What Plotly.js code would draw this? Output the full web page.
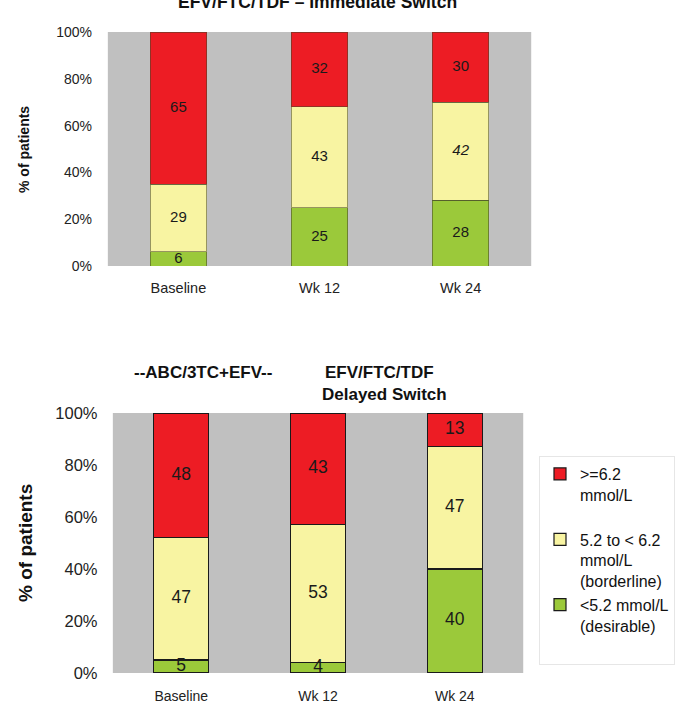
<!DOCTYPE html>
<html>
<head>
<meta charset="utf-8">
<script src="https://cdn.plot.ly/plotly-3.0.1.min.js"></script>
<style>html,body{margin:0;padding:0;background:#fff;}#chart{width:675px;height:715px;}</style>
</head>
<body>
<div id="chart"></div>
<script>
// ---- data ----
const categories = ['Baseline', 'Wk 12', 'Wk 24'];
// Immediate switch (top chart)
const topGreen  = [6, 25, 28];
const topYellow = [29, 43, 42];
const topRed    = [65, 32, 30];
const topYellowItalic = [false, false, true];
// Delayed switch (bottom chart)
const botGreen  = [5, 4, 40];
const botYellow = [47, 53, 47];
const botRed    = [48, 43, 13];
const seriesNames = ['&gt;=6.2<br>mmol/L<br> ', '5.2 to &lt; 6.2<br>mmol/L<br>(borderline)', '&lt;5.2 mmol/L<br>(desirable)<br> '];
const yTicks = [0, 20, 40, 60, 80, 100];
const yTickText = yTicks.map(v => v + '%');

// ---- style ----
const W = 675, H = 715;
const FONT = 'Liberation Sans, Arial, sans-serif';
const C_RED = '#ED1C24', C_YEL = '#F8F4A2', C_GRN = '#9BC93A', C_BG = '#C0C0C0';
const px = v => v / W, py = v => 1 - v / H;

function stackTraces(green, yellow, red, xa, ya, lineColor, lineWidth, showLegend, textSize, italic) {
  const cols = [C_GRN, C_YEL, C_RED];
  const series = [green, yellow, red];
  const names = [seriesNames[2], seriesNames[1], seriesNames[0]];
  const ranks = [3, 2, 1];
  const traces = [];
  series.forEach((vals, i) => {
    traces.push({
      type: 'bar', x: categories, y: vals, xaxis: xa, yaxis: ya,
      name: names[i], legendrank: ranks[i], showlegend: showLegend,
      marker: {color: cols[i], line: {color: lineColor, width: lineWidth}},
      hoverinfo: 'skip'
    });
  });
  // value labels at the middle of each segment
  series.forEach((vals, i) => {
    const mids = vals.map((v, k) => {
      let base = 0;
      for (let j = 0; j < i; j++) base += series[j][k];
      return base + v / 2;
    });
    const txt = vals.map((v, k) => (italic && i === 1 && italic[k]) ? '<i>' + v + '</i>' : String(v));
    traces.push({
      type: 'scatter', mode: 'text', x: categories, y: mids, text: txt, xaxis: xa, yaxis: ya,
      textposition: 'middle center', showlegend: false, hoverinfo: 'skip', cliponaxis: false,
      textfont: {family: FONT, size: textSize, color: '#1a1a1a'}
    });
  });
  return traces;
}

const data = [].concat(
  stackTraces(topGreen, topYellow, topRed, 'x', 'y', 'rgba(70,70,40,0.55)', 1, false, 15, topYellowItalic),
  stackTraces(botGreen, botYellow, botRed, 'x2', 'y2', '#1a1a1a', 1.2, true, 17.5, null)
);

const axCommon = {showgrid: false, zeroline: false, showline: false, fixedrange: true};
const layout = {
  width: W, height: H,
  margin: {l: 0, r: 0, t: 0, b: 0},
  paper_bgcolor: '#ffffff', plot_bgcolor: C_BG,
  barmode: 'stack', bargap: 0.6,
  font: {family: FONT, color: '#111'},
  xaxis: Object.assign({}, axCommon, {domain: [px(108), px(532)], anchor: 'y', type: 'category',
    ticks: 'outside', ticklen: 9, tickcolor: 'rgba(0,0,0,0)', tickfont: {family: FONT, size: 14.5, color: '#222'}}),
  yaxis: Object.assign({}, axCommon, {domain: [py(266), py(32)], anchor: 'x', range: [0, 100],
    tickmode: 'array', tickvals: yTicks, ticktext: yTickText, ticks: 'outside', ticklen: 12, tickcolor: 'rgba(0,0,0,0)',
    tickfont: {family: FONT, size: 14, color: '#222'}}),
  xaxis2: Object.assign({}, axCommon, {domain: [px(113), px(524)], anchor: 'y2', type: 'category',
    ticks: 'outside', ticklen: 10, tickcolor: 'rgba(0,0,0,0)', tickfont: {family: FONT, size: 14, color: '#222'}}),
  yaxis2: Object.assign({}, axCommon, {domain: [py(673), py(413)], anchor: 'x2', range: [0, 100],
    tickmode: 'array', tickvals: yTicks, ticktext: yTickText, ticks: 'outside', ticklen: 11, tickcolor: 'rgba(0,0,0,0)',
    tickfont: {family: FONT, size: 16.5, color: '#222'}}),
  showlegend: true,
  legend: {
    x: px(540), y: py(456), xanchor: 'left', yanchor: 'top',
    bgcolor: '#ffffff', bordercolor: '#e6e6e6', borderwidth: 1,
    font: {family: FONT, size: 16, color: '#111'},
    traceorder: 'normal', valign: 'top'
  },
  annotations: [
    {text: '<b>EFV/FTC/TDF – Immediate Switch</b>', xref: 'paper', yref: 'paper', x: px(318), y: py(2),
     xanchor: 'center', yanchor: 'middle', showarrow: false, font: {family: FONT, size: 17.5, color: '#111'}},
    {text: '<b>% of patients</b>', xref: 'paper', yref: 'paper', x: px(24), y: py(149), textangle: -90,
     xanchor: 'center', yanchor: 'middle', showarrow: false, font: {family: FONT, size: 14, color: '#111'}},
    {text: '<b>--ABC/3TC+EFV--</b>', xref: 'paper', yref: 'paper', x: px(203), y: py(372),
     xanchor: 'center', yanchor: 'middle', showarrow: false, font: {family: FONT, size: 17, color: '#111'}},
    {text: '<b>EFV/FTC/TDF</b>', xref: 'paper', yref: 'paper', x: px(380), y: py(372),
     xanchor: 'center', yanchor: 'middle', showarrow: false, font: {family: FONT, size: 17, color: '#111'}},
    {text: '<b>Delayed Switch</b>', xref: 'paper', yref: 'paper', x: px(385), y: py(394),
     xanchor: 'center', yanchor: 'middle', showarrow: false, font: {family: FONT, size: 17, color: '#111'}},
    {text: '<b>% of patients</b>', xref: 'paper', yref: 'paper', x: px(25), y: py(543), textangle: -90,
     xanchor: 'center', yanchor: 'middle', showarrow: false, font: {family: FONT, size: 19, color: '#111'}}
  ]
};

Plotly.newPlot('chart', data, layout, {staticPlot: true, displayModeBar: false});
</script>
</body>
</html>
